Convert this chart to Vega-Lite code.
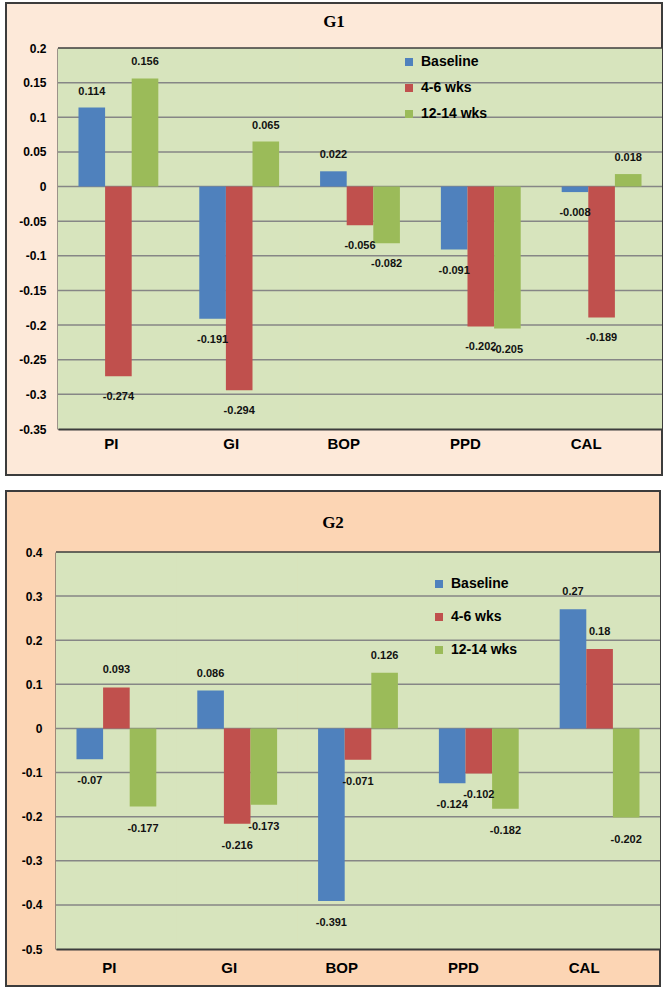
{
  "$schema": "https://vega.github.io/schema/vega-lite/v6.json",
  "padding": {"left": 5, "top": 2, "right": 0, "bottom": 0},
  "background": "white",
  "spacing": 14,
  "datasets": {
    "g1": [
      {"param": "PI", "series": "Baseline", "value": 0.114},
      {"param": "PI", "series": "4-6 wks", "value": -0.274},
      {"param": "PI", "series": "12-14 wks", "value": 0.156},
      {"param": "GI", "series": "Baseline", "value": -0.191},
      {"param": "GI", "series": "4-6 wks", "value": -0.294},
      {"param": "GI", "series": "12-14 wks", "value": 0.065},
      {"param": "BOP", "series": "Baseline", "value": 0.022},
      {"param": "BOP", "series": "4-6 wks", "value": -0.056},
      {"param": "BOP", "series": "12-14 wks", "value": -0.082},
      {"param": "PPD", "series": "Baseline", "value": -0.091},
      {"param": "PPD", "series": "4-6 wks", "value": -0.202},
      {"param": "PPD", "series": "12-14 wks", "value": -0.205},
      {"param": "CAL", "series": "Baseline", "value": -0.008},
      {"param": "CAL", "series": "4-6 wks", "value": -0.189},
      {"param": "CAL", "series": "12-14 wks", "value": 0.018}
    ],
    "g2": [
      {"param": "PI", "series": "Baseline", "value": -0.07},
      {"param": "PI", "series": "4-6 wks", "value": 0.093},
      {"param": "PI", "series": "12-14 wks", "value": -0.177},
      {"param": "GI", "series": "Baseline", "value": 0.086},
      {"param": "GI", "series": "4-6 wks", "value": -0.216},
      {"param": "GI", "series": "12-14 wks", "value": -0.173},
      {"param": "BOP", "series": "Baseline", "value": -0.391},
      {"param": "BOP", "series": "4-6 wks", "value": -0.071},
      {"param": "BOP", "series": "12-14 wks", "value": 0.126},
      {"param": "PPD", "series": "Baseline", "value": -0.124},
      {"param": "PPD", "series": "4-6 wks", "value": -0.102},
      {"param": "PPD", "series": "12-14 wks", "value": -0.182},
      {"param": "CAL", "series": "Baseline", "value": 0.27},
      {"param": "CAL", "series": "4-6 wks", "value": 0.18},
      {"param": "CAL", "series": "12-14 wks", "value": -0.202}
    ],
    "grid1": [
      {"t": 0.2}, {"t": 0.15}, {"t": 0.1}, {"t": 0.05}, {"t": 0}, {"t": -0.05},
      {"t": -0.1}, {"t": -0.15}, {"t": -0.2}, {"t": -0.25}, {"t": -0.3}
    ],
    "grid2": [
      {"t": 0.4}, {"t": 0.3}, {"t": 0.2}, {"t": 0.1}, {"t": 0}, {"t": -0.1},
      {"t": -0.2}, {"t": -0.3}, {"t": -0.4}
    ]
  },
  "resolve": {"scale": {"color": "independent"}, "legend": {"color": "independent"}},
  "vconcat": [
    {
      "width": 656,
      "height": 472,
      "view": {"fill": "#fde9d9", "stroke": "#3c3c3c", "strokeWidth": 2},
      "title": {"text": "G1", "font": "Liberation Serif", "fontSize": 17, "fontWeight": "bold", "color": "black", "offset": -36, "baseline": "middle", "frame": "group", "anchor": "middle"},
      "data": {"name": "g1"},
      "layer": [
        {
          "mark": {"type": "rect", "fill": "#d7e4bd"},
          "encoding": {
            "x": {"field": "param", "type": "nominal", "title": null},
            "y": {"datum": -0.35, "type": "quantitative", "title": null},
            "y2": {"datum": 0.2}
          }
        },
        {
          "data": {"name": "grid1"},
          "mark": {"type": "rule", "strokeWidth": 1.5},
          "encoding": {
            "x": {"datum": "PI", "bandPosition": 0},
            "x2": {"datum": "CAL", "bandPosition": 1},
            "y": {"field": "t", "type": "quantitative", "title": null},
            "color": {"condition": {"test": "datum.t == 0.2", "value": "#3c3c3c"}, "value": "#868686"}
          }
        },
        {
          "mark": {"type": "bar"},
          "encoding": {
            "x": {"field": "param", "type": "nominal", "title": null,
              "scale": {"domain": ["PI", "GI", "BOP", "PPD", "CAL"], "range": [52, 656], "paddingInner": 0, "paddingOuter": 0},
              "axis": {"offset": -46, "ticks": false, "tickSize": 0, "domainColor": "#3c3c3c", "domainWidth": 2, "labelAngle": 0, "labelFont": "Liberation Sans", "labelFontWeight": "bold", "labelFontSize": 15, "labelColor": "black", "labelPadding": 14, "title": null}},
            "xOffset": {"field": "series", "type": "nominal", "scale": {"domain": ["Baseline", "4-6 wks", "12-14 wks"], "paddingOuter": 0.77, "paddingInner": 0}},
            "y": {"field": "value", "type": "quantitative", "title": null,
              "scale": {"domain": [-0.35, 0.2], "range": [426, 45], "nice": false, "zero": false},
              "axis": {"values": [0.2, 0.15, 0.1, 0.05, 0, -0.05, -0.1, -0.15, -0.2, -0.25, -0.3, -0.35], "offset": -52, "grid": false, "ticks": false, "tickSize": 0, "domainColor": "#3c3c3c", "domainWidth": 2, "labelFont": "Liberation Sans", "labelFontWeight": "bold", "labelFontSize": 12, "labelColor": "black", "labelPadding": 12, "title": null, "labelExpr": "datum.value + ''"}},
            "color": {"field": "series", "type": "nominal",
              "scale": {"domain": ["Baseline", "4-6 wks", "12-14 wks"], "range": ["#4f81bd", "#c0504d", "#9bbb59"]},
              "legend": {"orient": "none", "legendX": 396, "legendY": 52, "title": null, "symbolType": "square", "symbolSize": 64, "symbolStrokeWidth": 0, "labelFontSize": 14, "labelFontWeight": "bold", "labelFont": "Liberation Sans", "labelColor": "black", "rowPadding": 12, "labelOffset": 5}}
          }
        },
        {
          "transform": [{"filter": "datum.value >= 0"}],
          "mark": {"type": "text", "dy": -16, "baseline": "middle", "font": "Liberation Sans", "fontWeight": "bold", "fontSize": 11, "color": "#111111"},
          "encoding": {
            "x": {"field": "param", "type": "nominal", "title": null},
            "xOffset": {"field": "series", "type": "nominal"},
            "y": {"field": "value", "type": "quantitative", "title": null},
            "text": {"field": "value", "type": "nominal"}
          }
        },
        {
          "transform": [{"filter": "datum.value < 0"}],
          "mark": {"type": "text", "dy": 21, "baseline": "middle", "font": "Liberation Sans", "fontWeight": "bold", "fontSize": 11, "color": "#111111"},
          "encoding": {
            "x": {"field": "param", "type": "nominal", "title": null},
            "xOffset": {"field": "series", "type": "nominal"},
            "y": {"field": "value", "type": "quantitative", "title": null},
            "text": {"field": "value", "type": "nominal"}
          }
        }
      ]
    },
    {
      "width": 654,
      "height": 495,
      "view": {"fill": "#fcd5b4", "stroke": "#3c3c3c", "strokeWidth": 2},
      "title": {"text": "G2", "font": "Liberation Serif", "fontSize": 17, "fontWeight": "bold", "color": "black", "offset": -49, "baseline": "middle", "frame": "group", "anchor": "middle"},
      "data": {"name": "g2"},
      "layer": [
        {
          "mark": {"type": "rect", "fill": "#d7e4bd"},
          "encoding": {
            "x": {"field": "param", "type": "nominal", "title": null},
            "y": {"datum": -0.5, "type": "quantitative", "title": null},
            "y2": {"datum": 0.4}
          }
        },
        {
          "data": {"name": "grid2"},
          "mark": {"type": "rule", "strokeWidth": 1.5},
          "encoding": {
            "x": {"datum": "PI", "bandPosition": 0},
            "x2": {"datum": "CAL", "bandPosition": 1},
            "y": {"field": "t", "type": "quantitative", "title": null},
            "color": {"condition": {"test": "datum.t == 0.4", "value": "#3c3c3c"}, "value": "#868686"}
          }
        },
        {
          "mark": {"type": "bar"},
          "encoding": {
            "x": {"field": "param", "type": "nominal", "title": null,
              "scale": {"domain": ["PI", "GI", "BOP", "PPD", "CAL"], "range": [50, 654], "paddingInner": 0, "paddingOuter": 0},
              "axis": {"offset": -37, "ticks": false, "tickSize": 0, "domainColor": "#3c3c3c", "domainWidth": 2, "labelAngle": 0, "labelFont": "Liberation Sans", "labelFontWeight": "bold", "labelFontSize": 15, "labelColor": "black", "labelPadding": 18, "title": null}},
            "xOffset": {"field": "series", "type": "nominal", "scale": {"domain": ["Baseline", "4-6 wks", "12-14 wks"], "paddingOuter": 0.77, "paddingInner": 0}},
            "y": {"field": "value", "type": "quantitative", "title": null,
              "scale": {"domain": [-0.5, 0.4], "range": [458, 61], "nice": false, "zero": false},
              "axis": {"values": [0.4, 0.3, 0.2, 0.1, 0, -0.1, -0.2, -0.3, -0.4, -0.5], "offset": -50, "grid": false, "ticks": false, "tickSize": 0, "domainColor": "#3c3c3c", "domainWidth": 2, "labelFont": "Liberation Sans", "labelFontWeight": "bold", "labelFontSize": 12, "labelColor": "black", "labelPadding": 14, "title": null, "labelExpr": "datum.value + ''"}},
            "color": {"field": "series", "type": "nominal",
              "scale": {"domain": ["Baseline", "4-6 wks", "12-14 wks"], "range": ["#4f81bd", "#c0504d", "#9bbb59"]},
              "legend": {"orient": "none", "legendX": 426, "legendY": 86, "title": null, "symbolType": "square", "symbolSize": 64, "symbolStrokeWidth": 0, "labelFontSize": 14, "labelFontWeight": "bold", "labelFont": "Liberation Sans", "labelColor": "black", "rowPadding": 19, "labelOffset": 5}}
          }
        },
        {
          "transform": [{"filter": "datum.value >= 0"}],
          "mark": {"type": "text", "dy": -17, "baseline": "middle", "font": "Liberation Sans", "fontWeight": "bold", "fontSize": 11, "color": "#111111"},
          "encoding": {
            "x": {"field": "param", "type": "nominal", "title": null},
            "xOffset": {"field": "series", "type": "nominal"},
            "y": {"field": "value", "type": "quantitative", "title": null},
            "text": {"field": "value", "type": "nominal"}
          }
        },
        {
          "transform": [{"filter": "datum.value < 0"}],
          "mark": {"type": "text", "dy": 22, "baseline": "middle", "font": "Liberation Sans", "fontWeight": "bold", "fontSize": 11, "color": "#111111"},
          "encoding": {
            "x": {"field": "param", "type": "nominal", "title": null},
            "xOffset": {"field": "series", "type": "nominal"},
            "y": {"field": "value", "type": "quantitative", "title": null},
            "text": {"field": "value", "type": "nominal"}
          }
        }
      ]
    }
  ]
}
